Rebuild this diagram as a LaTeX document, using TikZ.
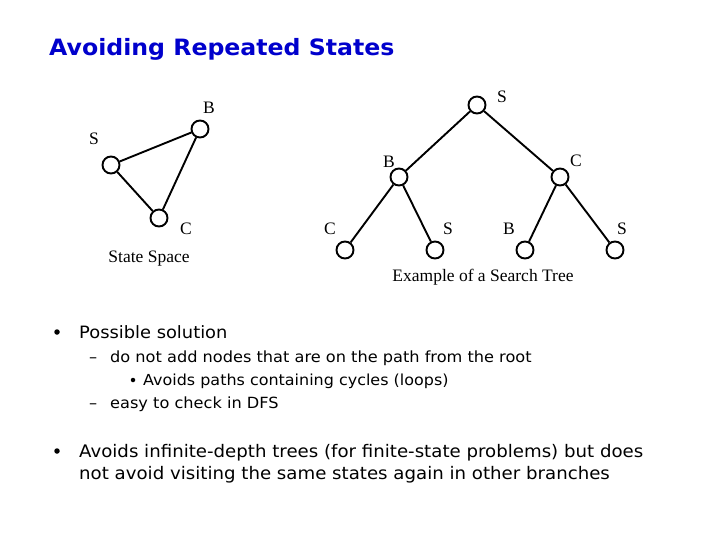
\documentclass[tikz,border=0pt]{standalone}
\usepackage{fontspec}
\setmainfont{Liberation Serif}
\newfontfamily\vsans[FakeStretch=1.05]{DejaVu Sans}
\definecolor{titleblue}{RGB}{0,0,204}
\begin{document}
\begin{tikzpicture}[x=1pt,y=-1pt,
  st/.style={circle,draw,line width=1.9pt,minimum size=17pt,inner sep=0pt},
  edge/.style={line width=1.9pt},
  lbl/.style={font=\fontsize{17.5}{20}\selectfont},
  txt/.style={anchor=base west,inner sep=0pt,font=\vsans\fontsize{#1}{#1}\selectfont}]
\useasboundingbox (0,0) rectangle (720,540);
\node[anchor=base west,inner sep=0pt,text=titleblue,font=\vsans\bfseries\fontsize{22.5}{24}\selectfont] (title) at (49,56) {Avoiding Repeated States};
% state space
\node[st] (sS) at (111,165) {};
\node[st] (sB) at (200,129) {};
\node[st] (sC) at (159,218) {};
\draw[edge] (sS) -- (sB);
\draw[edge] (sB) -- (sC);
\draw[edge] (sS) -- (sC);
\node[lbl] (lsB) at (209,108) {B};
\node[lbl] (lsS) at (94,139) {S};
\node[lbl] (lsC) at (186,229) {C};
\node[lbl] (lss) at (149,259) {State Space};
% search tree
\node[st] (r) at (477,105) {};
\node[st] (tB) at (399,177) {};
\node[st] (tC) at (560,177) {};
\node[st] (l1) at (345,250) {};
\node[st] (l2) at (435,250) {};
\node[st] (l3) at (525,250) {};
\node[st] (l4) at (615,250) {};
\draw[edge] (r) -- (tB);
\draw[edge] (r) -- (tC);
\draw[edge] (tB) -- (l1);
\draw[edge] (tB) -- (l2);
\draw[edge] (tC) -- (l3);
\draw[edge] (tC) -- (l4);
\node[lbl] (lr) at (502,97) {S};
\node[lbl] (ltB) at (389,162) {B};
\node[lbl] (ltC) at (576,161) {C};
\node[lbl] (ll1) at (330,229) {C};
\node[lbl] (ll2) at (448,229) {S};
\node[lbl] (ll3) at (509,229) {B};
\node[lbl] (ll4) at (622,229) {S};
\node[lbl] (lst) at (483,277) {Example of a Search Tree};
% bullets
\node[circle,fill,inner sep=0pt,minimum size=5.5pt] (b1) at (57,332) {};
\node[txt=17] (t1) at (79,338) {Possible solution};
\node[txt=15.4] (d1) at (89,362) {–};
\node[txt=15.4] (t2) at (110,362) {do not add nodes that are on the path from the root};
\node[circle,fill,inner sep=0pt,minimum size=4.5pt] (b2) at (133,380) {};
\node[txt=15.2] (t3) at (143,385) {Avoids paths containing cycles (loops)};
\node[txt=15.4] (d2) at (89,408) {–};
\node[txt=15.4] (t4) at (110,408) {easy to check in DFS};
\node[circle,fill,inner sep=0pt,minimum size=5.5pt] (b3) at (57,451) {};
\node[txt=17.3] (t5) at (79,457) {Avoids infinite-depth trees (for finite-state problems) but does};
\node[txt=17.3] (t6) at (79,479) {not avoid visiting the same states again in other branches};
\end{tikzpicture}
\end{document}
